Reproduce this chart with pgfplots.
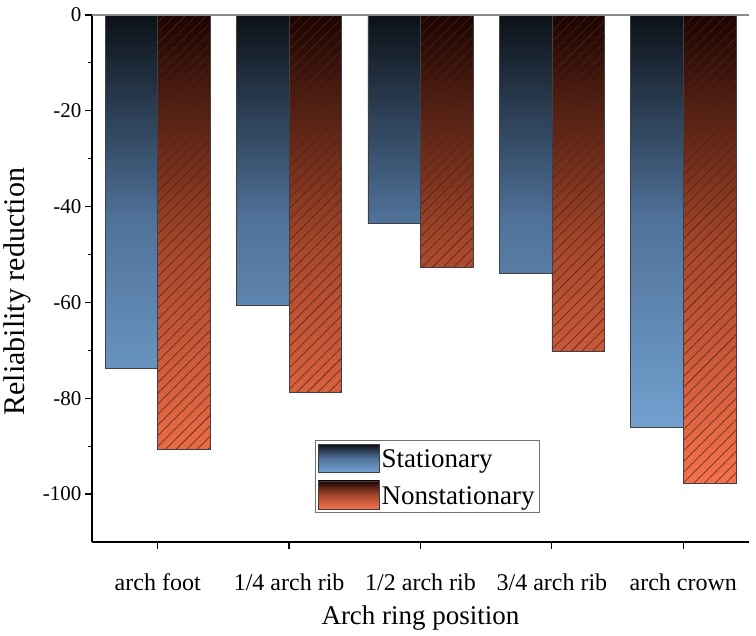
\documentclass[border=0pt]{standalone}
\usepackage{fontspec}
\setmainfont{Liberation Serif}
\usepackage{pgfplots}
\pgfplotsset{compat=1.18}
\usetikzlibrary{patterns.meta}
\definecolor{stTop}{HTML}{0C1117}
\definecolor{stMid}{HTML}{50729A}
\definecolor{stBot}{HTML}{72A0CF}
\definecolor{nsTop}{HTML}{1A0503}
\definecolor{nsMid}{HTML}{A6482C}
\definecolor{nsBot}{HTML}{F4714D}
\definecolor{hatch}{HTML}{5A200F}
\pgfplotsset{
  stlegend/.style={legend image code/.code={%
    \draw[black!75, line width=0.7pt, top color=stTop, bottom color=stBot, middle color=stMid] (0pt,-13pt) rectangle (61pt,15pt);}},
  nslegend/.style={legend image code/.code={%
    \draw[black!75, line width=0.7pt, top color=nsTop, bottom color=nsBot, middle color=nsMid] (0pt,-13pt) rectangle (61pt,15pt);
    \fill[pattern={Lines[angle=45,distance=10pt,line width=0.55pt]}, pattern color=hatch] (0pt,-13pt) rectangle (61pt,15pt);
    \draw[black!75, line width=0.7pt] (0pt,-13pt) rectangle (61pt,15pt);}},
}
\begin{document}
\begin{tikzpicture}
\path[use as bounding box] (-92pt,-94pt) rectangle (664pt,542pt);
\begin{axis}[
  scale only axis, width=657pt, height=527pt,
  ybar, bar width=0.4,
  xmin=-0.5, xmax=4.5, ymin=-110, ymax=0,
  xtick={0,1,2,3,4},
  xticklabels={arch foot, 1/4 arch rib, 1/2 arch rib, 3/4 arch rib, arch crown},
  ytick={-100,-80,-60,-40,-20,0}, minor y tick num=1,
  axis lines=left,
  axis line style={-, line width=1.4pt, black},
  tick align=outside,
  major tick length=7pt, minor tick length=4pt,
  every tick/.style={black, line width=1.2pt},
  /pgf/number format/assume math mode=true,
  yticklabel style={font=\fontsize{21}{24}\selectfont},
  xticklabel style={font=\fontsize{24}{27}\selectfont, yshift=-21pt},
  xlabel={Arch ring position},
  ylabel={Reliability reduction},
  xlabel style={font=\fontsize{27}{30}\selectfont, at={(axis description cs:0.5,-0.145)}, anchor=center},
  ylabel style={font=\fontsize{30}{33}\selectfont, at={(axis description cs:-0.114,0.475)}, anchor=center, inner sep=1pt},
  legend style={at={(axis description cs:0.339,0.1935)}, anchor=north west,
    draw=black!55, line width=0.6pt, font=\fontsize{27}{30}\selectfont,
    inner xsep=3pt, inner ysep=3.5pt, row sep=8pt, cells={anchor=west}},
]
\addplot[bar shift=-0.2, draw=black!75, line width=0.7pt, top color=stTop, bottom color=stBot, middle color=stMid, stlegend]
  coordinates {(0,-73.8) (1,-60.6) (2,-43.5) (3,-54.0) (4,-86.0)};
\addlegendentry{Stationary}
\addplot[bar shift=0.2, draw=black!75, line width=0.7pt, top color=nsTop, bottom color=nsBot, middle color=nsMid, nslegend]
  coordinates {(0,-90.6) (1,-78.8) (2,-52.7) (3,-70.2) (4,-97.7)};
\addlegendentry{Nonstationary}
\addplot[forget plot, bar shift=0.2, draw=black!75, line width=0.7pt,
  pattern={Lines[angle=45,distance=7.5pt,line width=0.55pt]}, pattern color=hatch]
  coordinates {(0,-90.6) (1,-78.8) (2,-52.7) (3,-70.2) (4,-97.7)};
\draw[black!45, line width=1.2pt] (rel axis cs:0,1) -- (rel axis cs:1,1);
\end{axis}
\end{tikzpicture}
\end{document}
